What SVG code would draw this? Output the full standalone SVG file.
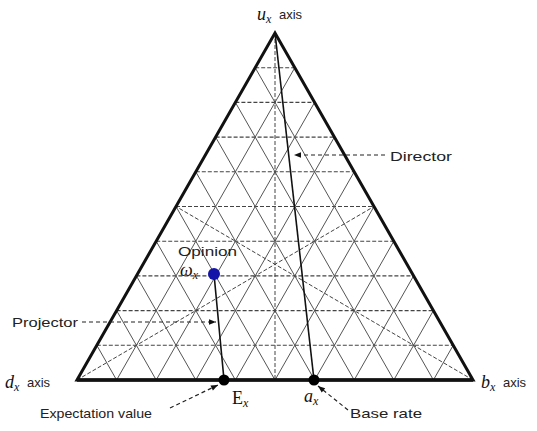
<svg xmlns="http://www.w3.org/2000/svg" width="537" height="431" viewBox="0 0 537 431">
<defs>
<style>
.grid{stroke:#555;stroke-width:1;fill:none}
.hgrid{stroke:#444;stroke-width:1.1;stroke-dasharray:4 2;fill:none}
.alt{stroke:#444;stroke-width:1;stroke-dasharray:4 2;fill:none}
.main{stroke:#111;stroke-width:1.6;fill:none}
.ptr{stroke:#222;stroke-width:1.2;stroke-dasharray:4 3;fill:none}
.lbl{font-family:"Liberation Sans",Arial,sans-serif;font-size:13px;fill:#222}
.math{font-family:"Liberation Serif","Times New Roman",serif;font-style:italic;font-size:18px;fill:#111}
.sub{font-family:"Liberation Serif","Times New Roman",serif;font-style:italic;font-size:12px;fill:#111}
</style>
<marker id="ah" viewBox="0 0 10 10" refX="10" refY="5" markerWidth="10" markerHeight="7" markerUnits="userSpaceOnUse" orient="auto">
<path d="M0,1 L10,5 L0,9 Z" fill="#111"/>
</marker>
</defs>
<rect width="537" height="431" fill="#fff"/>
<g id="grid">
<path class="hgrid" d="M96.8,345.3H453.2M116.6,310.6H433.4M136.4,275.9H413.6M156.2,241.2H393.8M176,206.5H374M195.8,171.8H354.2M215.6,137.1H334.4M235.4,102.4H314.6M255.2,67.7H294.8"/>
<path class="grid" d="M116.6,380L294.8,67.7M156.2,380L314.6,102.4M195.8,380L334.4,137.1M235.4,380L354.2,171.8M275,380L374,206.5M314.6,380L393.8,241.2M354.2,380L413.6,275.9M393.8,380L433.4,310.6M433.4,380L453.2,345.3"/>
<path class="grid" d="M116.6,380L96.8,345.3M156.2,380L116.6,310.6M195.8,380L136.4,275.9M235.4,380L156.2,241.2M275,380L176,206.5M314.6,380L195.8,171.8M354.2,380L215.6,137.1M393.8,380L235.4,102.4M433.4,380L255.2,67.7"/>
<path class="alt" d="M275,33V380M77,380L374,206.5M473,380L176,206.5"/>
</g>
<g id="triangle">
<path d="M77,380L275,33L473,380Z" fill="none" stroke="#111" stroke-width="3" stroke-linejoin="miter"/>
<path d="M77,380H473" stroke="#111" stroke-width="3.6"/>
</g>
<g id="connectors">
<path id="director" class="main" d="M275,33L314,380"/>
<path id="projector" class="main" d="M214,274L224,380"/>
<path class="ptr" marker-end="url(#ah)" d="M385,155H294"/>
<path class="ptr" marker-end="url(#ah)" d="M82,322H216"/>
<path class="ptr" marker-end="url(#ah)" d="M170,408L218,385"/>
<path class="ptr" marker-end="url(#ah)" d="M348,410L318,386"/>
</g>
<g id="node-opinion">
<circle cx="214" cy="274" r="6" fill="#1414a8"/>
<text class="lbl" x="178" y="256" textLength="59" lengthAdjust="spacingAndGlyphs">Opinion</text>
<text class="math" x="180" y="276">ω<tspan class="sub" dy="3">x</tspan></text>
</g>
<g id="node-expectation">
<circle cx="224" cy="380" r="5.5" fill="#000"/>
<text class="math" x="232" y="404" style="font-style:normal">E<tspan class="sub" dy="3">x</tspan></text>
</g>
<g id="node-baserate">
<circle cx="314" cy="380" r="5.5" fill="#000"/>
<text class="math" x="304" y="402">a<tspan class="sub" dy="3">x</tspan></text>
</g>
<g id="labels">
<text class="math" x="257" y="20">u<tspan class="sub" dy="3">x</tspan></text>
<text class="lbl" x="279" y="19">axis</text>
<text class="math" x="5" y="388">d<tspan class="sub" dy="3">x</tspan></text>
<text class="lbl" x="27" y="387">axis</text>
<text class="math" x="481" y="388">b<tspan class="sub" dy="3">x</tspan></text>
<text class="lbl" x="503" y="387">axis</text>
<text class="lbl" x="390" y="161" textLength="62" lengthAdjust="spacingAndGlyphs">Director</text>
<text class="lbl" x="12" y="327" textLength="66" lengthAdjust="spacingAndGlyphs">Projector</text>
<text class="lbl" x="40" y="418" textLength="112" lengthAdjust="spacingAndGlyphs">Expectation value</text>
<text class="lbl" x="350" y="418" textLength="72" lengthAdjust="spacingAndGlyphs">Base rate</text>
</g>
</svg>
